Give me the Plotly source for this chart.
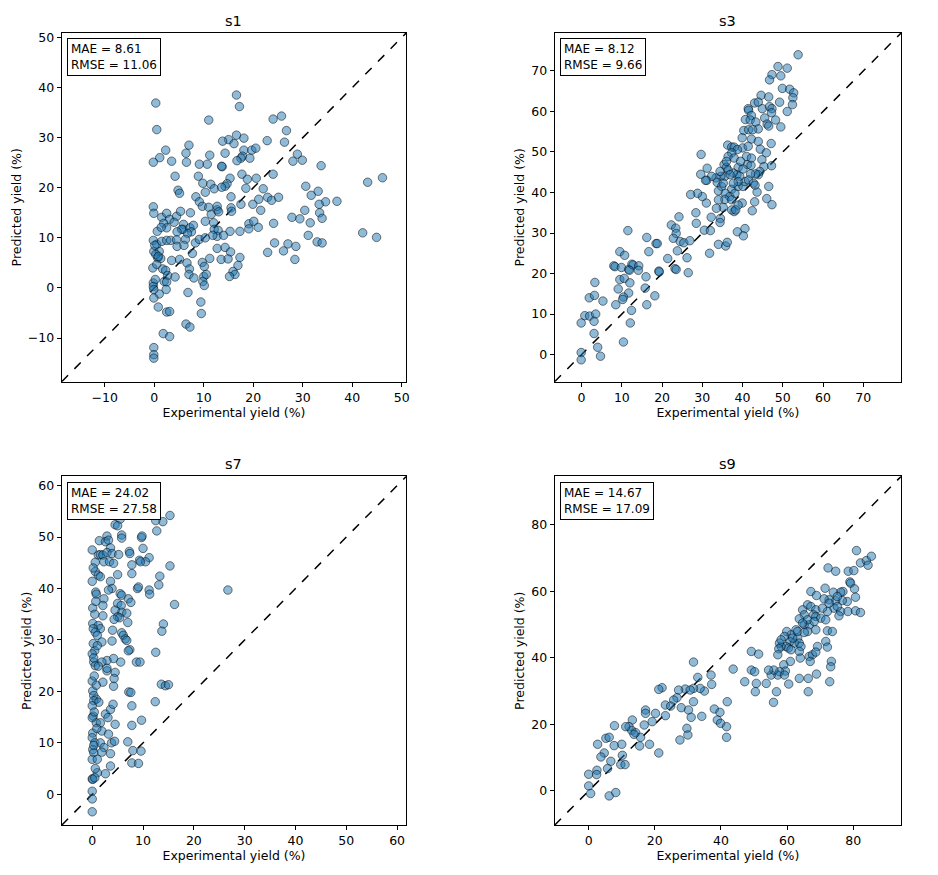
import plotly.graph_objects as go

# s1 : experimental / predicted yields (%)
s1_exp = [0.3, 16.6, 17.2, 0.5, 11.0, 24.0, 25.7, 26.7, 26.3, 22.8, 16.6, 15.0, 13.8, 16.1, 18.1,
          7.0, 2.3, 1.1, -0.2, 3.5, 6.4, 6.5, 11.2, 14.3, 18.1, 17.8, 19.7, 20.5, 17.5, 16.7, 19.3,
          28.9, 28.0, 29.9, 33.7, 9.1, 10.7, 13.7, 13.6, 4.2, 8.9, 17.7, 18.8, 20.6, 24.0, 15.3,
          14.7, 14.3, 9.8, 11.4, 12.1, 13.6, 4.8, 5.1, 8.4, 10.3, 18.5, 22.0, 30.6, 31.7, 33.1,
          36.9, 34.6, 33.3, 43.1, 46.1, -0.2, -0.1, 1.5, 2.5, 3.1, 4.5, 5.3, 7.3, 9.1, 9.7, 11.0,
          11.5, 12.7, 12.7, 13.0, 15.5, 15.5, 15.6, 17.5, 19.9, 21.1, 22.9, 23.7, 25.1, 21.5, 30.4,
          27.8, 29.4, 33.4, 33.9, 1.9, 2.5, 4.0, 5.9, 5.8, 7.2, 7.9, 7.5, 6.7, 5.5, 4.6, 0.6, 10.3,
          12.0, 12.1, 12.9, 12.7, 14.0, 11.8, 15.3, 17.3, 19.1, 19.1, 20.1, 21.0, 24.1, 31.5, 31.1,
          42.1, 44.9, -0.2, 0.5, 1.5, 2.5, 3.3, 4.5, 6.3, 8.3, 9.1, 10.3, -0.1, 1.0, 0.7, 1.3, -0.3,
          0.5, 1.7, 3.5, 4.6, 6.0, 5.1, 6.6, 7.7, 9.7, 11.2, 10.1, 12.7, 14.3, 15.4, 13.5, 14.9,
          17.3, 16.9, 22.9, 24.3, 26.1, 27.0, 28.6, 28.4, 32.9, 33.9, 2.3, 2.7, 4.2, 7.1, 7.0, 8.0,
          10.0, 9.8, 10.1, 10.5, 15.9, 16.3, 15.2, -0.2, 0.2, 2.0, 2.5, 2.4, 1.0, -0.2, -0.1, -0.1,
          6.8, 9.4, 9.5, 0.8, 2.5, 3.1, 6.4, 7.2, 1.8, 3.1, -0.1, -0.1, -0.1, 0.3, 0.8, 0.1, 1.4]
s1_pred = [36.9, 38.5, 36.2, 31.6, 33.5, 33.7, 34.3, 31.4, 29.1, 29.4, 30.5, 29.6, 29.3, 28.8, 29.9,
           28.5, 27.5, 26.0, 25.1, 25.3, 26.9, 25.1, 26.5, 26.9, 27.5, 26.3, 27.5, 27.9, 25.9, 25.4,
           25.9, 26.7, 25.3, 25.5, 24.4, 24.7, 24.7, 24.2, 24.3, 22.3, 22.3, 22.7, 21.7, 21.9, 22.7,
           21.9, 20.8, 20.3, 20.9, 20.7, 19.8, 20.1, 19.5, 18.9, 18.2, 19.1, 19.9, 19.8, 20.3, 18.5,
           19.3, 17.3, 17.2, 16.7, 21.1, 22.0, 16.2, 14.9, 14.1, 14.9, 13.7, 14.3, 15.3, 15.0, 17.2,
           16.3, 16.1, 14.7, 15.6, 16.3, 15.2, 18.2, 16.0, 15.3, 16.7, 16.7, 17.7, 18.1, 17.5, 18.1,
           15.5, 15.5, 14.1, 13.8, 15.0, 13.9, 12.9, 12.0, 13.1, 12.7, 11.7, 12.0, 12.5, 11.2, 10.9,
           11.7, 11.2, 11.3, 13.3, 13.0, 11.7, 11.5, 10.3, 10.5, 10.5, 11.3, 11.3, 12.8, 11.8, 13.3,
           12.1, 12.9, 13.0, 10.5, 11.0, 10.1, 9.5, 8.7, 9.3, 9.5, 9.5, 9.6, 9.7, 9.0, 9.7, 10.0,
           7.3, 7.3, 6.0, 5.9, 4.0, 4.7, 3.8, 5.5, 8.3, 8.5, 5.7, 5.0, 6.9, 5.1, 5.9, 4.3, 7.9, 8.1,
           7.2, 5.7, 5.8, 6.1, 4.5, 7.1, 9.0, 7.4, 8.8, 8.3, 5.7, 9.2, 9.0, 3.5, 2.5, 2.2, 3.8, 2.7,
           2.0, 2.3, 1.3, 0.5, 2.7, 3.3, 2.7, 2.3, 1.0, 1.7, 1.3, 1.2, -0.3, -1.2, 0.3, -0.3, -2.0,
           -0.9, -2.8, -5.1, -3.8, -4.8, -4.7, -7.2, -7.8, -9.1, -9.7, -11.9, -13.3, -14.0, 6.7, 6.3,
           8.5, 12.1]

# s3
s3_exp = [53.8, 48.8, 51.1, 47.3, 49.5, 46.7, 49.9, 51.7, 52.7, 52.5, 44.6, 46.5, 43.0, 43.9, 49.2,
          52.4, 51.1, 41.4, 41.5, 42.2, 44.9, 46.7, 47.3, 47.2, 45.5, 48.2, 46.1, 46.5, 49.5, 40.7,
          41.9, 43.3, 43.9, 40.3, 41.5, 42.5, 39.9, 42.2, 43.9, 44.4, 47.1, 45.9, 47.2, 44.8, 45.3,
          44.3, 43.9, 36.3, 37.3, 37.9, 40.0, 38.7, 37.3, 36.4, 37.9, 35.4, 36.0, 38.9, 41.2, 42.1,
          43.2, 42.0, 40.1, 38.6, 37.7, 36.4, 35.6, 34.6, 33.4, 32.3, 31.1, 30.8, 29.6, 31.2, 29.7,
          33.7, 34.8, 34.0, 37.3, 35.7, 36.8, 38.1, 38.9, 40.1, 40.6, 41.5, 42.7, 43.1, 43.6, 46.5,
          46.0, 47.3, 39.9, 38.9, 37.9, 37.3, 35.2, 35.6, 34.0, 33.5, 31.0, 30.0, 28.8, 27.1, 28.4,
          28.5, 24.2, 22.3, 23.4, 23.5, 22.8, 24.5, 25.4, 26.9, 30.5, 32.0, 32.2, 34.5, 34.4, 31.8,
          34.0, 35.8, 36.2, 38.7, 40.6, 40.2, 42.4, 43.0, 18.5, 18.8, 16.7, 16.2, 21.4, 23.8, 26.2,
          26.5, 23.2, 23.5, 19.2, 19.3, 16.0, 15.8, 18.2, 16.2, 11.5, 9.5, 10.7, 8.0, 8.3, 9.9, 11.7,
          12.5, 12.8, 14.2, 14.1, 11.9, 9.5, 10.6, 12.0, 3.3, 1.9, 3.2, 5.3, 9.1, 11.7, 10.4, 10.2,
          8.5, 12.4, 0.8, 2.0, 3.5, 3.1, -0.1, 3.1, 12.1, 10.4, 4.0, 4.7, -0.1, -0.1, 34.4, 36.9,
          39.3, 35.2, 38.9, 37.7, 36.0, 41.0, 42.2, 39.5, 41.4, 37.3, 38.3]
s3_pred = [74.0, 71.1, 70.7, 69.1, 68.8, 67.8, 65.7, 65.5, 64.6, 63.4, 64.0, 63.6, 62.1, 62.3, 62.3,
           61.7, 60.0, 60.7, 60.3, 59.0, 60.7, 61.2, 60.7, 59.7, 58.4, 57.9, 56.9, 56.4, 56.2, 58.0,
           57.9, 57.4, 55.7, 55.3, 55.5, 55.5, 53.5, 53.2, 52.6, 50.7, 52.1, 49.8, 46.6, 48.1, 46.4,
           45.2, 44.4, 51.7, 51.2, 51.2, 51.0, 50.6, 49.8, 48.9, 48.5, 46.9, 46.2, 46.2, 46.9, 46.7,
           44.6, 44.6, 45.8, 44.4, 44.8, 45.5, 44.0, 44.0, 43.6, 44.0, 43.0, 43.0, 44.5, 46.0, 49.4,
           42.5, 41.5, 40.4, 40.8, 39.8, 39.0, 39.8, 41.5, 41.5, 42.7, 43.1, 42.3, 41.8, 40.1, 41.5,
           38.5, 37.0, 37.4, 36.9, 35.3, 35.7, 36.3, 38.3, 38.2, 36.1, 37.4, 39.0, 39.8, 39.5, 35.0,
           32.4, 34.0, 32.0, 31.2, 29.9, 28.7, 27.9, 27.6, 28.1, 30.7, 30.6, 33.9, 33.6, 32.6, 25.0,
           27.2, 26.8, 27.7, 30.3, 31.1, 29.3, 35.5, 37.7, 27.4, 27.4, 25.4, 28.9, 23.7, 25.6, 23.9,
           20.2, 21.2, 21.0, 20.6, 20.4, 19.2, 16.4, 14.5, 12.3, 30.6, 25.4, 24.5, 21.9, 21.7, 21.5,
           21.0, 22.3, 22.1, 21.9, 20.8, 20.8, 18.5, 18.8, 17.7, 17.8, 14.0, 14.6, 13.2, 16.2, 15.2,
           14.2, 13.6, 12.3, 10.9, 9.6, 9.5, 10.0, 8.2, 7.8, 5.2, 7.8, 3.1, 1.8, -0.4, 0.5, -1.3,
           45.2, 44.4, 44.0, 42.3, 42.7, 42.3, 47.7, 48.9, 48.5, 47.7, 51.4, 38.2, 35.7]

# s7
s7_exp = [15.3, 13.9, 12.5, 12.7, 5.5, 4.5, 5.0, 5.8, 5.8, 2.9, 1.4, 2.6, 3.2, 3.6, 0.0, 1.2, 1.6,
          2.1, 2.9, 3.9, 5.2, 7.3, 7.4, 9.7, 9.8, 10.0, 9.3, 11.2, 10.5, 9.5, 0.6, 2.3, 3.4, 4.2,
          7.8, 15.3, 13.3, 13.1, 11.2, 11.3, 8.9, 9.1, 7.8, 5.0, 3.6, 0.6, 1.2, 0.0, 1.6, 3.9, 3.2,
          0.7, 0.8, 2.3, 5.5, 5.8, 7.1, 7.6, 16.2, 26.7, 5.0, 5.7, 5.8, 2.1, 0.1, 2.1, 4.5, 5.0,
          5.4, 6.8, 7.0, 4.3, 4.0, 3.9, 5.8, 6.1, 6.5, 6.8, 14.0, 13.7, 12.5, 7.4, 7.1, 8.7, 9.4,
          5.6, 4.2, 2.9, 1.9, 4.5, 4.3, 2.1, 4.2, 7.2, 7.6, 13.6, 14.4, 15.0, 12.4, 0.0, 0.1, 1.2,
          1.6, 0.2, 0.6, 1.0, 1.9, 0.2, 0.5, 1.0, 0.0, 0.3, 0.6, 1.2, 2.9, 2.9, 0.1, 0.3, 0.8, 0.3,
          1.3, 0.0, 0.2, 0.8, 0.0, 1.6, 2.6, 3.1, 3.6, 4.1, 4.5, 1.9, 3.2, 0.1, 0.0, 0.5, 0.1, 0.3,
          0.0, 1.0, 1.6, 2.3, 3.6, 3.8, 4.4, 7.0, 7.8, 7.8, 9.7, 8.0, 9.6, 7.8, 9.1, 3.6, 2.6, 1.0,
          0.0, 0.1, 0.5, 0.0, 0.0, 0.0, 1.9, 0.4, 0.8, 0.3, 0.5, 0.7, 0.2, 0.9, 0.4, 0.6, 0.3]
s7_pred = [54.2, 53.0, 53.2, 51.2, 53.5, 52.4, 52.2, 50.4, 49.8, 50.2, 49.3, 49.1, 49.4, 47.9, 47.5,
           46.5, 46.6, 46.5, 47.0, 46.8, 46.6, 47.2, 46.8, 49.9, 50.2, 47.8, 45.5, 46.0, 45.2, 45.2,
           45.1, 45.2, 45.2, 44.9, 44.6, 44.4, 42.4, 40.7, 39.7, 38.9, 40.0, 40.3, 42.9, 42.7, 41.4,
           43.3, 42.6, 41.4, 42.3, 40.0, 39.7, 39.3, 38.9, 38.0, 39.0, 38.7, 38.0, 37.3, 36.9, 39.7,
           37.1, 36.7, 35.4, 36.7, 36.2, 34.7, 35.8, 34.5, 34.3, 35.2, 33.4, 34.0, 31.9, 29.8, 31.4,
           30.9, 30.2, 29.9, 33.1, 31.7, 27.6, 28.1, 27.9, 25.7, 25.7, 25.7, 26.4, 26.0, 25.7, 23.7,
           22.5, 21.8, 21.0, 19.9, 19.8, 21.4, 21.1, 21.3, 18.0, 22.0, 33.2, 32.8, 32.2, 32.2, 31.5,
           30.9, 29.6, 29.3, 27.9, 28.9, 27.3, 25.7, 25.0, 24.9, 24.0, 24.5, 20.1, 19.2, 18.5, 18.2,
           17.9, 17.2, 15.2, 13.9, 14.9, 13.9, 15.6, 14.9, 16.5, 17.5, 13.6, 12.3, 11.7, 11.9, 11.0,
           10.0, 8.7, 8.1, 6.8, 6.8, 10.0, 9.1, 7.9, 10.0, 10.3, 10.2, 17.2, 13.4, 14.4, 8.5, 8.4,
           6.1, 6.0, 5.5, 4.0, 4.2, 3.0, 2.9, 3.2, 0.6, -0.9, -3.4, 8.2, 23.0, 21.2, 26.5, 35.0, 37.5,
           44.0, 12.8, 16.0, 5.0, 9.5]

# s9
s9_exp = [81.0, 82.2, 84.0, 85.5, 84.5, 72.4, 74.7, 78.5, 80.2, 79.0, 79.2, 80.4, 76.9, 76.2, 74.0,
          71.5, 67.2, 68.9, 80.7, 78.2, 76.7, 74.7, 75.2, 72.7, 71.2, 66.2, 67.2, 68.7, 74.2, 72.2,
          76.2, 78.4, 80.7, 82.2, 75.7, 64.7, 65.2, 68.0, 68.7, 70.2, 71.7, 63.7, 65.2, 66.7, 68.7,
          72.2, 73.7, 71.7, 72.2, 69.2, 66.2, 62.7, 61.2, 59.9, 59.2, 60.9, 63.2, 62.2, 59.7, 60.4,
          58.2, 57.7, 58.2, 57.5, 57.2, 61.2, 63.7, 64.2, 63.7, 64.0, 66.7, 67.7, 68.7, 73.4, 73.2,
          67.0, 61.0, 59.0, 59.5, 57.7, 57.2, 55.2, 59.2, 56.0, 54.4, 49.2, 50.2, 43.7, 49.2, 51.4,
          47.2, 50.7, 53.7, 50.4, 56.8, 60.5, 63.7, 66.4, 68.9, 72.9, 66.4, 55.9, 41.9, 31.7, 33.0,
          37.0, 37.2, 35.0, 33.7, 31.7, 29.2, 30.7, 27.2, 26.7, 25.7, 31.7, 28.0, 30.2, 31.0, 34.2,
          38.0, 39.7, 38.9, 39.9, 41.7, 41.7, 29.7, 30.0, 27.6, 22.2, 21.2, 23.2, 24.8, 23.2, 20.2,
          19.2, 17.2, 17.2, 16.8, 18.4, 21.2, 13.2, 12.2, 13.0, 14.2, 15.7, 15.4, 13.7, 11.2, 7.8,
          5.2, 6.2, 2.7, 10.0, 10.2, 7.7, 4.7, 3.7, 6.7, 9.7, 11.0, 5.7, 2.5, 0.0, 2.4, 0.0, 0.6,
          6.2, 8.2, 66.2, 64.7, 63.2, 61.7, 65.2, 68.2, 70.7, 72.7, 75.2]
s9_pred = [72.2, 68.5, 69.2, 70.5, 67.8, 67.0, 66.0, 66.0, 66.2, 62.8, 62.4, 60.7, 59.9, 59.7, 59.7,
           60.9, 59.9, 58.7, 58.2, 56.9, 57.2, 57.1, 58.4, 57.4, 57.7, 55.9, 55.4, 54.4, 54.9, 53.9,
           53.9, 53.9, 54.1, 53.6, 52.6, 54.4, 52.9, 52.9, 52.4, 51.9, 51.4, 51.7, 49.9, 49.9, 48.4,
           48.1, 47.9, 44.9, 43.2, 43.4, 47.9, 48.4, 46.9, 47.9, 46.4, 44.9, 45.9, 44.4, 43.4, 42.9,
           43.4, 44.4, 45.4, 42.7, 40.9, 42.4, 44.4, 43.4, 41.9, 39.9, 40.4, 40.9, 41.7, 38.9, 37.3,
           38.9, 38.9, 37.9, 36.0, 35.8, 34.8, 34.8, 34.8, 36.3, 36.3, 36.3, 35.8, 36.6, 41.9, 41.1,
           32.8, 32.3, 32.3, 29.8, 29.8, 32.1, 33.8, 33.8, 35.1, 32.8, 29.8, 26.6, 26.8, 38.7, 34.1,
           34.8, 32.0, 30.0, 30.8, 30.8, 30.6, 30.3, 30.3, 28.0, 27.3, 26.8, 25.0, 24.3, 22.1, 22.4,
           24.6, 23.6, 21.3, 20.3, 19.3, 16.1, 18.8, 16.8, 15.3, 31.0, 30.5, 25.8, 25.5, 22.6, 23.3,
           20.8, 24.3, 23.3, 19.8, 14.0, 11.4, 21.3, 19.3, 18.2, 17.5, 16.1, 13.5, 17.0, 19.3, 19.6,
           15.8, 16.1, 14.0, 14.0, 10.7, 13.6, 11.4, 10.2, 8.9, 7.9, 7.9, 6.7, 6.2, 5.0, 4.9, 1.5,
           -0.8, -1.5, -0.5, 51.4, 50.4, 47.9, 45.9, 47.6, 50.9, 54.9, 56.4, 55.4]

titles = ["s1", "s3", "s7", "s9"]
mae = ["8.61", "8.12", "24.02", "14.67"]
rmse = ["11.06", "9.66", "27.58", "17.09"]
lims = [(-18.7, 50.9), (-6.7, 79.4), (-6.0, 61.8), (-10.3, 94.5)]
dticks = [10, 10, 10, 20]
xs = [s1_exp, s3_exp, s7_exp, s9_exp]
ys = [s1_pred, s3_pred, s7_pred, s9_pred]

W, H = 938, 875
# pixel boxes (left, right, top, bottom) of the four axes
boxes = [(62, 408, 30, 380), (557, 905, 30, 380), (62, 408, 475, 825), (557, 905, 475, 825)]

font = "DejaVu Sans"
fig = go.Figure()
layout = dict(width=W, height=H, margin=dict(l=0, r=0, t=0, b=0), showlegend=False,
              plot_bgcolor="white", paper_bgcolor="white",
              font=dict(family=font, size=12.5, color="black"))
annotations = []

for i in range(4):
    n = "" if i == 0 else str(i + 1)
    xa, ya = "x" + n, "y" + n
    l, r, t, b = boxes[i]
    lo, hi = lims[i]
    fig.add_trace(go.Scatter(x=[lo, hi], y=[lo, hi], mode="lines", xaxis=xa, yaxis=ya,
                             line=dict(color="black", width=1.5, dash="dash"), hoverinfo="skip"))
    fig.add_trace(go.Scatter(x=xs[i], y=ys[i], mode="markers", xaxis=xa, yaxis=ya,
                             marker=dict(size=8.5, color="rgba(31,119,180,0.5)",
                                         line=dict(color="rgba(0,0,0,0.5)", width=1))))
    axcommon = dict(range=[lo, hi], dtick=dticks[i], tick0=0, showgrid=False, zeroline=False,
                    showline=True, linecolor="black", linewidth=1, mirror=True,
                    ticks="outside", ticklen=4, tickcolor="black",
                    tickfont=dict(family=font, size=12.5))
    layout["xaxis" + n] = dict(axcommon, domain=[l / W, r / W], anchor=ya,
                               title=dict(text="Experimental yield (%)", standoff=3,
                                          font=dict(family=font, size=12.5)))
    layout["yaxis" + n] = dict(axcommon, domain=[1 - b / H, 1 - t / H], anchor=xa,
                               title=dict(text="Predicted yield (%)", standoff=3,
                                          font=dict(family=font, size=12.5)))
    annotations.append(dict(text=titles[i], x=0.5, y=1, xref=xa + " domain", yref=ya + " domain",
                            xanchor="center", yanchor="bottom", yshift=2, showarrow=False,
                            font=dict(family=font, size=14.5)))
    annotations.append(dict(text="MAE = %s<br>RMSE = %s" % (mae[i], rmse[i]),
                            x=0.015, y=0.985, xref=xa + " domain", yref=ya + " domain",
                            xanchor="left", yanchor="top", showarrow=False, align="left",
                            bgcolor="white", bordercolor="black", borderwidth=1, borderpad=3,
                            font=dict(family=font, size=12)))

layout["annotations"] = annotations
fig.update_layout(**layout)
fig.write_html("out.html", config={"displayModeBar": False},
               post_script="document.body.style.margin='0';")
